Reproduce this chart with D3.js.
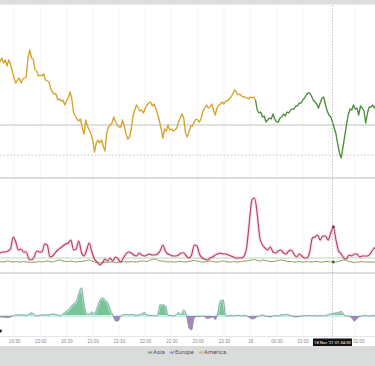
<!DOCTYPE html>
<html>
<head>
<meta charset="utf-8">
<script src="https://cdn.jsdelivr.net/npm/d3@7"></script>
<style>
  body { margin: 0; background: #fff; }
  svg { display: block; font-family: Roboto, "Open Sans", sans-serif; }
</style>
</head>
<body>
<svg id="chart" width="375" height="366"></svg>
<script>
// time window shown
const startTime = new Date(2021, 10, 17, 19, 14);
const endTime = new Date(2021, 10, 18, 2, 22, 36);

// price, one close every 2 minutes from startTime
const priceStep = 2;
const priceClose = [
  1.13238,1.13242,1.13237,1.13240,1.13234,1.13240,1.13236,1.13229,1.13222,1.13217,
  1.13220,1.13222,1.13217,1.13221,1.13222,1.13223,1.13242,1.13250,1.13242,1.13241,
  1.13230,1.13229,1.13224,1.13225,1.13224,1.13226,1.13220,1.13219,1.13218,1.13211,
  1.13208,1.13206,1.13206,1.13200,1.13201,1.13199,1.13200,1.13195,1.13199,1.13202,
  1.13208,1.13202,1.13188,1.13184,1.13181,1.13179,1.13181,1.13172,1.13166,1.13180,
  1.13174,1.13170,1.13166,1.13160,1.13148,1.13157,1.13160,1.13157,1.13160,1.13154,
  1.13149,1.13167,1.13173,1.13175,1.13177,1.13183,1.13178,1.13175,1.13173,1.13173,
  1.13180,1.13174,1.13166,1.13161,1.13163,1.13171,1.13184,1.13190,1.13195,1.13192,
  1.13189,1.13190,1.13187,1.13192,1.13195,1.13197,1.13198,1.13194,1.13196,1.13192,
  1.13186,1.13180,1.13172,1.13162,1.13171,1.13169,1.13175,1.13170,1.13171,1.13169,
  1.13170,1.13172,1.13178,1.13182,1.13186,1.13182,1.13167,1.13163,1.13168,1.13174,
  1.13174,1.13178,1.13181,1.13180,1.13178,1.13182,1.13189,1.13192,1.13195,1.13192,
  1.13193,1.13196,1.13190,1.13185,1.13192,1.13195,1.13196,1.13198,1.13196,1.13199,
  1.13199,1.13201,1.13203,1.13206,1.13210,1.13208,1.13205,1.13206,1.13204,1.13203,
  1.13203,1.13202,1.13201,1.13203,1.13202,1.13203,1.13200,1.13190,1.13187,1.13188,
  1.13183,1.13184,1.13178,1.13180,1.13182,1.13181,1.13186,1.13181,1.13178,1.13178,
  1.13182,1.13183,1.13186,1.13184,1.13188,1.13187,1.13190,1.13191,1.13191,1.13194,
  1.13194,1.13197,1.13197,1.13200,1.13202,1.13205,1.13207,1.13207,1.13204,1.13200,
  1.13198,1.13196,1.13192,1.13197,1.13202,1.13203,1.13195,1.13189,1.13185,1.13183,
  1.13178,1.13172,1.13166,1.13156,1.13147,1.13142,1.13153,1.13164,1.13175,1.13185,
  1.13191,1.13190,1.13195,1.13191,1.13192,1.13185,1.13194,1.13192,1.13189,1.13177,
  1.13187,1.13193,1.13193,1.13195,1.13192,1.13196
];
const asiaOpen = new Date(2021, 10, 18, 0, 6);
const refLevels = [1.13175, 1.13145];

// sessions / legend
const sessionNames = ["Asia", "Europe", "America"];
const sessionColors = ["#4f8f3f", "#5f6fc8", "#d6a52c"];

// indicator panels, one value every 3 minutes
const statStep = 3;
const volRed = [
  20,21,21,22,24,36,31,23,24,21,
  21,14,13,16,22,21,21,29,28,16,
  17,20,23,25,27,29,30,33,23,24,
  32,21,17,23,30,21,14,11,8,10,
  14,12,15,12,16,14,11,15,19,21,
  20,18,17,20,18,17,18,19,18,18,
  19,22,28,22,19,18,17,17,18,20,
  20,17,15,18,28,27,19,15,14,13,
  15,16,18,19,20,19,19,18,17,16,
  15,15,15,17,26,51,73,75,59,35,
  28,25,23,26,21,20,22,23,20,19,
  22,23,19,16,19,17,15,15,21,35,
  36,38,33,37,37,33,40,46,33,22,
  19,15,14,18,17,19,19,16,17,17,
  17,19,23,26
];
const volGreen = [
  11.5,11,11.5,12,11.5,11,11.5,11,11,11.5,
  11,11,10.5,11,11,11.5,11,11.5,12,11.5,
  11,12,12.5,13,12,11.5,11.5,12,11.5,11,
  11.5,11.5,12,12.5,13,12,11,10.5,10,10.5,
  11,10.5,11,11,10.5,11,11,11.5,11,11,
  11.5,11,11,11.5,12,12,11.5,12.5,13.5,14,
  13,12,12,11.5,11,11.5,11,11,11.5,11.5,
  11,11,11.5,12,12.5,12,11.5,11,11,11.5,
  12,11.5,11,11,11.5,12,11.5,11,11,11.5,
  11,11,11.5,12,12,12.5,13,13.5,12.5,12,
  13,12.5,12,11.5,11.5,12,12.5,13,12.5,12,
  11.5,11.5,11,11,11.5,11,11,11.5,11,11,
  11.5,11.5,11,11,11.5,11.5,11,11,11,11.5,
  12.5,13,12.5,11.5,11,10.5,11,11,11.5,11,
  11,11,11,11
];
const volRef = 15;
const flow = [
  -1,-1,-1.5,-1.5,-1,0,1,1,1,1,
  0.5,1.5,3,1.5,0,0.5,1,1,1,1,
  2,1.5,1,0,2,4,6,9,12,14,
  22,28,12,2,2,4,2,8,15,18,
  16,13,6,1,-5,-5,0,1,1.5,1,
  1.5,1,0.5,1,2,3.5,1,0.5,0.5,0,
  0.5,11,11,10,0.5,0.5,0,1,3.5,1,
  6,1,-12,-14,-2,-0.5,-0.5,0,-1,-2.5,
  -2,-1,-3.5,3,15,16,0.5,0,0.5,0,
  0.5,0.5,0,0.5,0,-1.5,-3,-2.5,-0.5,0,
  1,0,-0.5,-1,0,0.5,0,1,1,1.5,
  1,0,-0.5,-1,-0.5,0,0.5,0,0.5,0,
  0.5,0,0.5,0,0.5,1,2,2.5,3,3.5,
  4.5,1,0,-0.5,-2,-5,-3,-0.5,0,0.5,
  0,0,0.5,0
];

// x axis labels, every 30 minutes from 19:30
const tickLabels = ["19:30","20:00","20:30","21:00","21:30","22:00","22:30","23:00","23:30","18","00:30","01:00","01:30","02:00"];
const cursorTime = new Date(2021, 10, 18, 1, 34);
const cursorLabel = "18 Nov '21 01:34:00";

const W = 375, H = 366;
const svg = d3.select("#chart");

const x = d3.scaleTime().domain([startTime, endTime]).range([0, W]);
const yPrice = d3.scaleLinear().domain([1.13145, 1.13175]).range([155, 125]);
const yVol = d3.scaleLinear().domain([0, 90]).range([273, 183]);
const yFlow = d3.scaleLinear().domain([-20, 40]).range([336, 276]);

const tAt = (i, step) => new Date(+startTime + i * step * 60000);
const priceData = priceClose.map((v, i) => ({t: tAt(i, priceStep), v}));
const redData = volRed.map((v, i) => ({t: tAt(i, statStep), v}));
const greenData = volGreen.map((v, i) => ({t: tAt(i, statStep), v}));
const flowData = flow.map((v, i) => ({t: tAt(i, statStep), v}));

// top band
svg.append("rect").attr("x", 0).attr("y", 0).attr("width", W).attr("height", 4.5).attr("fill", "#dcdedd");

// faint vertical grid
const ticks = x.ticks(d3.timeMinute.every(30));
svg.append("g").selectAll("line").data(ticks).enter().append("line")
  .attr("x1", d => x(d)).attr("x2", d => x(d))
  .attr("y1", 5).attr("y2", 336)
  .attr("stroke", "#f2f2f2").attr("stroke-width", 0.8);

// price reference levels
svg.append("line").attr("x1", 0).attr("x2", W)
  .attr("y1", yPrice(refLevels[0])).attr("y2", yPrice(refLevels[0]))
  .attr("stroke", "#d6d6d6").attr("stroke-width", 1.3);
svg.append("line").attr("x1", 0).attr("x2", W)
  .attr("y1", yPrice(refLevels[1])).attr("y2", yPrice(refLevels[1]))
  .attr("stroke", "#c4c4c4").attr("stroke-width", 1).attr("stroke-dasharray", "1.5,2");

// price line, coloured by session
const priceLine = d3.line().x(d => x(d.t)).y(d => yPrice(d.v));
svg.append("path").datum(priceData.filter(d => d.t <= asiaOpen))
  .attr("d", priceLine).attr("fill", "none")
  .attr("stroke", sessionColors[2]).attr("stroke-width", 1.4).attr("stroke-linejoin", "round");
svg.append("path").datum(priceData.filter(d => d.t >= asiaOpen))
  .attr("d", priceLine).attr("fill", "none")
  .attr("stroke", sessionColors[0]).attr("stroke-width", 1.4).attr("stroke-linejoin", "round");

// panel borders
[178, 273].forEach(y => {
  svg.append("line").attr("x1", 0).attr("x2", W).attr("y1", y).attr("y2", y)
    .attr("stroke", "#d0d0d0").attr("stroke-width", 1.5);
});

// volatility panel
svg.append("line").attr("x1", 0).attr("x2", W)
  .attr("y1", yVol(volRef)).attr("y2", yVol(volRef))
  .attr("stroke", "#bcd8bc").attr("stroke-width", 1);
const volLine = d3.line().x(d => x(d.t)).y(d => yVol(d.v)).curve(d3.curveMonotoneX);
svg.append("path").datum(redData).attr("d", volLine).attr("fill", "none")
  .attr("stroke", "#f7cdd9").attr("stroke-width", 3.5).attr("opacity", 0.6);
svg.append("path").datum(greenData).attr("d", volLine).attr("fill", "none")
  .attr("stroke", "#8a9a58").attr("stroke-width", 1);
svg.append("path").datum(redData).attr("d", volLine).attr("fill", "none")
  .attr("stroke", "#b23a62").attr("stroke-width", 1.1);

// flow panel
const zero = yFlow(0);
const posArea = d3.area().x(d => x(d.t)).y0(zero).y1(d => yFlow(Math.max(d.v, 0))).curve(d3.curveMonotoneX);
const negArea = d3.area().x(d => x(d.t)).y0(zero).y1(d => yFlow(Math.min(d.v, 0))).curve(d3.curveMonotoneX);
svg.append("path").datum(flowData).attr("d", posArea)
  .attr("fill", "#79c596").attr("stroke", "#c4f3ea").attr("stroke-width", 2);
svg.append("path").datum(flowData).attr("d", negArea)
  .attr("fill", "#a585bf").attr("stroke", "none");
svg.append("path").datum(flowData)
  .attr("d", d3.line().x(d => x(d.t)).y(d => yFlow(d.v)).curve(d3.curveMonotoneX))
  .attr("fill", "none").attr("stroke", "#8d8a98").attr("stroke-width", 0.8);

svg.append("text").attr("x", -1).attr("y", 333).attr("font-size", 6).attr("font-weight", "bold")
  .attr("fill", "#111").text("▾");

// crosshair position and its label box
const cx = x(cursorTime);
const boxW = 39;
const boxL = cx - boxW / 2, boxR = cx + boxW / 2;

// x axis, labels hidden under the cursor label are skipped
svg.append("line").attr("x1", 0).attr("x2", W).attr("y1", 336.5).attr("y2", 336.5)
  .attr("stroke", "#e6e6e6").attr("stroke-width", 1);
const shownTicks = ticks.filter(d => x(d) < boxL - 6 || x(d) > boxR);
const axis = d3.axisBottom(x).tickValues(shownTicks).tickSize(0)
  .tickFormat(d => tickLabels[ticks.indexOf(d)]);
const gx = svg.append("g").attr("transform", "translate(0,338)").call(axis);
gx.select(".domain").remove();
gx.selectAll("text").attr("font-size", 4.5).attr("fill", "#8a8a8a").attr("dy", "0.5em");
// label right after the cursor box starts at its edge
gx.selectAll(".tick").filter(d => x(d) > boxR - 8 && x(d) < boxR + 8)
  .select("text").attr("text-anchor", "start").attr("x", boxR + 0.8 - 0).attr("transform", d => `translate(${-x(d)},0)`);

svg.append("line").attr("x1", cx).attr("x2", cx).attr("y1", 5).attr("y2", 337)
  .attr("stroke", "#b8b8b8").attr("stroke-width", 0.8).attr("stroke-dasharray", "1.5,1.5");
const ci = Math.round((cursorTime - startTime) / (statStep * 60000));
svg.append("circle").attr("cx", x(redData[ci].t)).attr("cy", yVol(redData[ci].v)).attr("r", 1.4).attr("fill", "#7a1f3c");
svg.append("circle").attr("cx", x(greenData[ci].t)).attr("cy", yVol(greenData[ci].v)).attr("r", 1.4).attr("fill", "#3d6a2a");

// bottom band + legend
svg.append("rect").attr("x", 0).attr("y", 346).attr("width", W).attr("height", H - 346).attr("fill", "#d9dcdb");
const legendX = [148, 170, 199];
const legend = svg.append("g").selectAll("g").data(sessionNames).enter().append("g")
  .attr("transform", (d, i) => `translate(${legendX[i]},352)`);
legend.append("path").attr("d", "M0,1.5L1.3,-0.5L2.6,1.8L4,-1")
  .attr("fill", "none").attr("stroke", (d, i) => sessionColors[i]).attr("stroke-width", 0.9);
legend.append("text").attr("x", 5).attr("y", 2).attr("font-size", 6).attr("fill", "#555").text(d => d);

// cursor time label
svg.append("rect").attr("x", boxL).attr("y", 338.5).attr("width", boxW).attr("height", 7.5).attr("fill", "#111");
svg.append("text").attr("x", cx).attr("y", 343.8).attr("text-anchor", "middle")
  .attr("font-size", 4.2).attr("fill", "#fff").text(cursorLabel);
</script>
</body>
</html>
